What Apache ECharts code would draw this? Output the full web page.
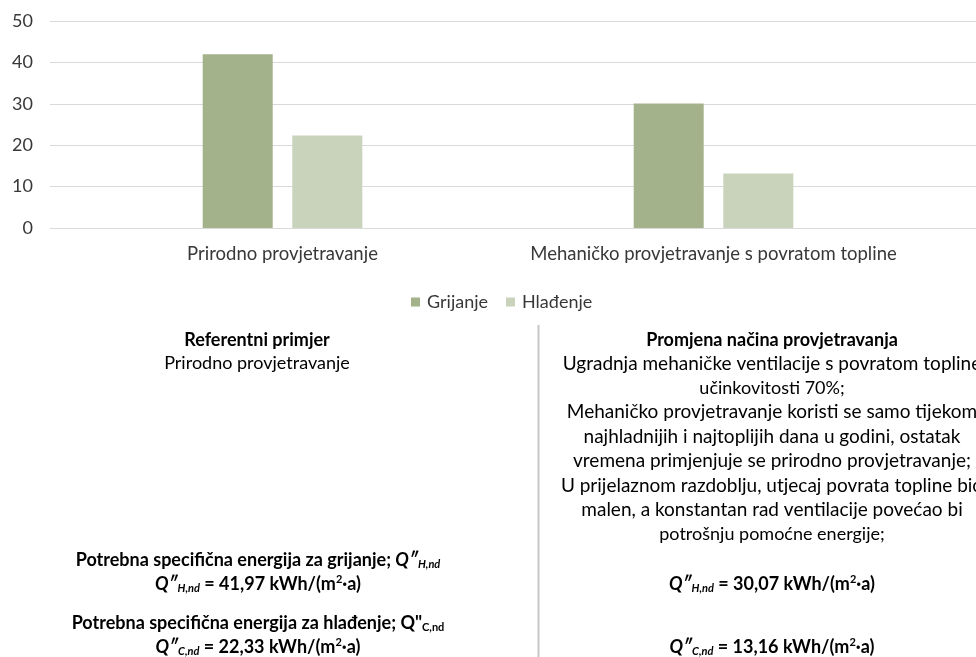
<!DOCTYPE html>
<html>
<head>
<meta charset="utf-8">
<script src="https://cdn.jsdelivr.net/npm/echarts@6/dist/echarts.min.js"></script>
<style>
html,body{margin:0;padding:0;background:#fff;}
#c{width:976px;height:657px;}
</style>
</head>
<body>
<div id="c"></div>
<script>
var categories = ['Prirodno provjetravanje', 'Mehaničko provjetravanje s povratom topline'];
var seriesNames = ['Grijanje', 'Hlađenje'];
var grijanje = [41.97, 30.07];
var hladenje = [22.33, 13.16];
var yTicks = [0, 10, 20, 30, 40, 50];

var FONT = 'Lato, "Open Sans", sans-serif';
var FS = 18;
var TXT = '#383838';
var chart = echarts.init(document.getElementById('c'), null, {renderer: 'canvas'});

function qLine(sub, rest) {
  return '{qi|Q\u2033}{sub|' + sub + '}{b| = ' + rest + ' kWh/(m}{sup|2}{b|\u00b7a)}';
}
var rich = {
  b: {fontFamily: FONT, fontSize: FS, fontWeight: 'bold', color: '#1e1e1e', lineHeight: 24},
  n: {fontFamily: FONT, fontSize: FS, color: TXT, lineHeight: 24},
  w: {fontFamily: FONT, fontSize: 19, color: TXT, lineHeight: 24},
  qi: {fontFamily: FONT, fontSize: FS, fontWeight: 'bold', fontStyle: 'italic', color: '#1e1e1e', lineHeight: 24},
  sub: {fontFamily: FONT, fontSize: 11, fontWeight: 'bold', fontStyle: 'italic', color: '#1e1e1e', lineHeight: 24, padding: [9, 0, 0, 0]},
  subn: {fontFamily: FONT, fontSize: 11, fontWeight: 'bold', color: '#1e1e1e', lineHeight: 24, padding: [9, 0, 0, 0]},
  sup: {fontFamily: FONT, fontSize: 11, fontWeight: 'bold', color: '#1e1e1e', lineHeight: 24, padding: [0, 0, 9, 0]}
};
function txt(x, y, text) {
  return {type: 'text', x: x, y: y, style: {text: text, rich: rich, align: 'center', verticalAlign: 'middle', font: FS + 'px ' + FONT}};
}

var option = {
  animation: false,
  backgroundColor: '#ffffff',
  color: ['#a3b28b', '#c9d3bb'],
  legend: {
    data: seriesNames,
    left: 406, top: 288,
    itemWidth: 9, itemHeight: 9, itemGap: 18,
    icon: 'rect',
    textStyle: {fontFamily: FONT, fontSize: FS, color: TXT, padding: [0, 0, 0, 2]}
  },
  grid: [
    {left: 50, right: 0, top: 21, height: 207},
    {left: 67, width: 862, top: 21, height: 207}
  ],
  xAxis: [
    {gridIndex: 0, type: 'category', data: [], show: false},
    {gridIndex: 1, type: 'category', data: categories,
     axisLine: {show: false}, axisTick: {show: false},
     axisLabel: {interval: 0, fontFamily: FONT, fontSize: 18.5, color: TXT, margin: 17}}
  ],
  yAxis: [
    {gridIndex: 0, type: 'value', min: yTicks[0], max: yTicks[yTicks.length - 1], interval: 10,
     axisLine: {show: false}, axisTick: {show: false},
     axisLabel: {fontFamily: FONT, fontSize: FS, color: TXT, margin: 17},
     splitLine: {lineStyle: {color: '#d9d9d9', width: 1}}},
    {gridIndex: 1, type: 'value', min: yTicks[0], max: yTicks[yTicks.length - 1], interval: 10, show: false}
  ],
  series: [
    {name: seriesNames[0], type: 'bar', xAxisIndex: 1, yAxisIndex: 1, data: grijanje, barWidth: 70, barGap: '28%'},
    {name: seriesNames[1], type: 'bar', xAxisIndex: 1, yAxisIndex: 1, data: hladenje, barWidth: 70, barGap: '28%'}
  ],
  graphic: [
    {type: 'line', shape: {x1: 538.5, y1: 325, x2: 538.5, y2: 657}, style: {stroke: '#c8c8c8', lineWidth: 2}},
    txt(257, 340, '{b|Referentni primjer}'),
    txt(257, 363, '{n|Prirodno provjetravanje}'),
    txt(258, 560, '{b|Potrebna specifična energija za grijanje; }{qi|Q\u2033}{sub|H,nd}'),
    txt(258, 584, qLine('H,nd', '41,97')),
    txt(258, 623, '{b|Potrebna specifična energija za hlađenje; Q"}{subn|C,nd}'),
    txt(258, 647, qLine('C,nd', '22,33')),
    txt(772, 340, '{b|Promjena načina provjetravanja}'),
    txt(772, 364, '{w|Ugradnja mehaničke ventilacije s povratom topline}'),
    txt(772, 388, '{n|učinkovitosti 70%;}'),
    txt(772, 412, '{w|Mehaničko provjetravanje koristi se samo tijekom}'),
    txt(772, 437, '{w|najhladnijih i najtoplijih dana u godini, ostatak}'),
    txt(772, 461, '{w|vremena primjenjuje se prirodno provjetravanje;}'),
    txt(772, 486, '{w|U prijelaznom razdoblju, utjecaj povrata topline bio}'),
    txt(772, 510, '{w|malen, a konstantan rad ventilacije povećao bi}'),
    txt(772, 534, '{n|potrošnju pomoćne energije;}'),
    txt(772, 584, qLine('H,nd', '30,07')),
    txt(772, 647, qLine('C,nd', '13,16'))
  ]
};
chart.setOption(option);
</script>
</body>
</html>
